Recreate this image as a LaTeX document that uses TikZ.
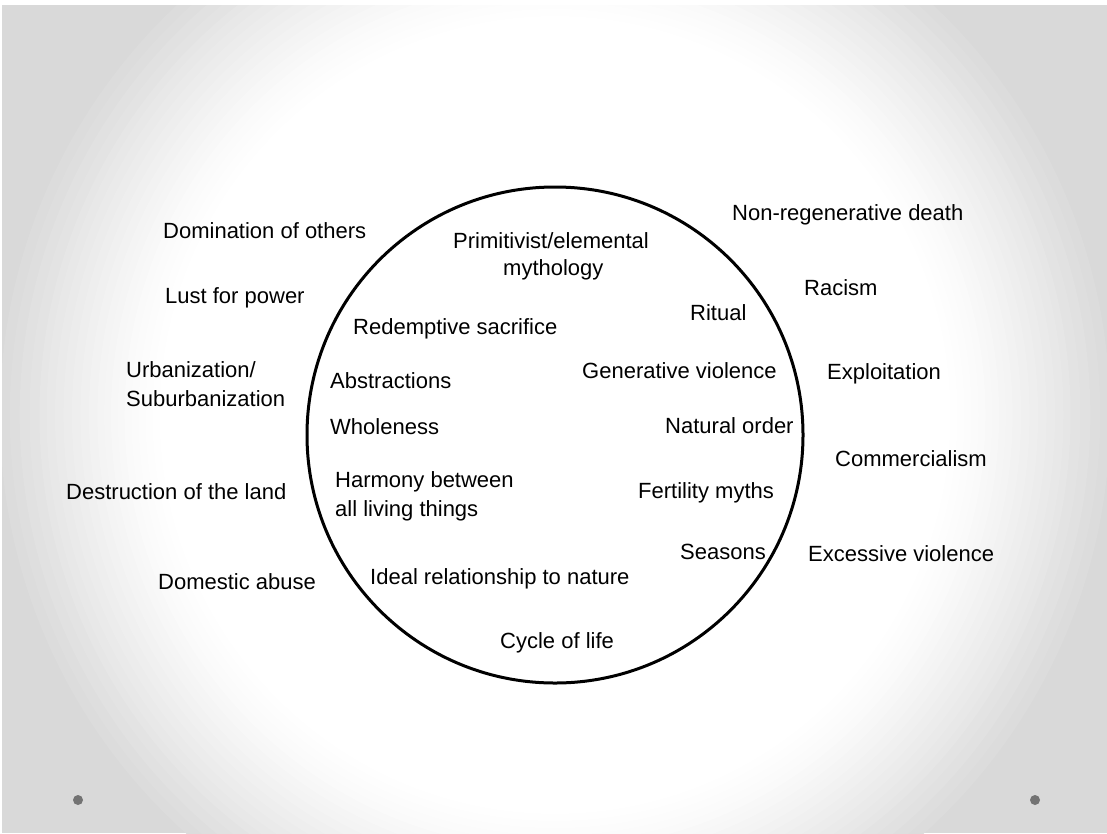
\documentclass[tikz,border=0pt]{standalone}
\usepackage{fontspec}
\setmainfont{Liberation Sans}
\begin{document}
\begin{tikzpicture}[x=1pt,y=-1pt,
  lbl/.style={anchor=base west, inner sep=0pt, font=\fontsize{22}{27}\selectfont, text=black},
  lbl2/.style={anchor=west, inner sep=0pt, align=left, font=\fontsize{22}{29}\selectfont, text=black},
  dot/.style={circle, fill=black!55, inner sep=0pt, minimum size=10pt}]
\useasboundingbox (0,0) rectangle (1107,833);
\fill[white] (0,0) rectangle (1107,833);
\begin{scope}
  \clip (2,5) rectangle (1107,833);
  \fill[black!15] (2,5) rectangle (1107,833);
  \foreach \r/\g in {0.9825/13.95, 0.965/12.9, 0.9475/11.85, 0.93/10.8, 0.9125/9.75, 0.9/9, 0.885/8.25, 0.87/7.5, 0.855/6.75, 0.84/6, 0.825/5.25, 0.81/4.5, 0.798/3.9, 0.786/3.3, 0.774/2.7, 0.762/2.1, 0.75/1.5, 0.7375/1.125, 0.725/0.75, 0.7125/0.375, 0.70/0}
    \fill[black!\g] (555,415) ellipse ({565*\r} and {570*\r});
\end{scope}
\node[dot] (d1) at (78,800) {};
\node[dot] (d2) at (1035,800) {};
\node[circle, draw=black, line width=3pt, minimum size=496pt, inner sep=0pt] (c) at (555,435) {};
% outside left
\node[lbl] (l1) at (163,238) {Domination of others};
\node[lbl] (l2) at (165,303) {Lust for power};
\node[lbl2] (l3) at (126,384) {Urbanization/\\Suburbanization};
\node[lbl] (l4) at (66,499) {Destruction of the land};
\node[lbl] (l5) at (158,589) {Domestic abuse};
% inside
\node[lbl2, font=\fontsize{22}{27}\selectfont] (i1) at (453,256) {Primitivist/elemental\\\hspace*{50pt}mythology};
\node[lbl] (i2) at (690,320) {Ritual};
\node[lbl] (i3) at (353,334) {Redemptive sacrifice};
\node[lbl] (i4) at (330,388) {Abstractions};
\node[lbl] (i5) at (582,378) {Generative violence};
\node[lbl] (i6) at (330,434) {Wholeness};
\node[lbl] (i7) at (665,433) {Natural order};
\node[lbl2] (i8) at (335,496) {Harmony between\\all living things};
\node[lbl] (i9) at (638,498) {Fertility myths};
\node[lbl] (i10) at (680,559) {Seasons};
\node[lbl] (i11) at (370,584) {Ideal relationship to nature};
\node[lbl] (i12) at (500,648) {Cycle of life};
% outside right
\node[lbl] (r1) at (732,220) {Non-regenerative death};
\node[lbl] (r2) at (804,295) {Racism};
\node[lbl] (r3) at (827,379) {Exploitation};
\node[lbl] (r4) at (835,466) {Commercialism};
\node[lbl] (r5) at (808,561) {Excessive violence};
\end{tikzpicture}
\end{document}
